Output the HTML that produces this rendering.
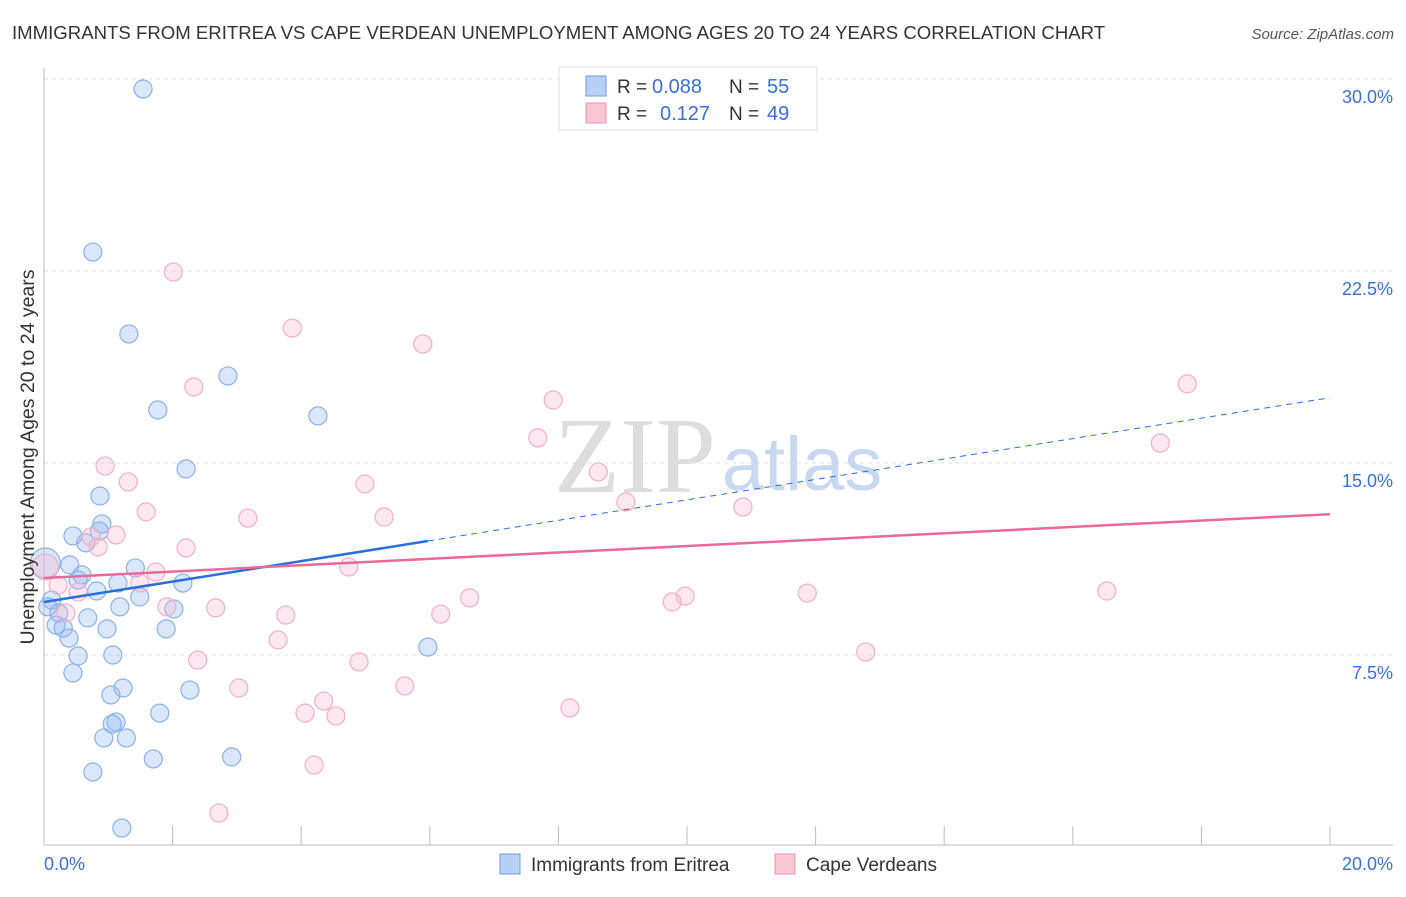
<!DOCTYPE html>
<html><head><meta charset="utf-8"><style>
body{margin:0;background:#fff;font-family:"Liberation Sans",sans-serif}
</style></head><body>
<svg width="1406" height="892" xmlns="http://www.w3.org/2000/svg">
<text x="12" y="39" font-size="18.6" fill="#333">IMMIGRANTS FROM ERITREA VS CAPE VERDEAN UNEMPLOYMENT AMONG AGES 20 TO 24 YEARS CORRELATION CHART</text>
<text x="1394" y="39" font-size="15" fill="#555" font-style="italic" text-anchor="end">Source: ZipAtlas.com</text>
<g id="grid"></g>
<text x="635" y="492" font-size="108" fill="#ddd" font-family="Liberation Serif" text-anchor="middle">ZIP</text>
<text x="802" y="490" font-size="76" fill="#c8d8f0" text-anchor="middle">atlas</text>
<line x1="44" y1="68" x2="44" y2="845" stroke="#bbb"/>
<line x1="44" y1="845" x2="1393" y2="845" stroke="#bbb"/>
<g id="ticks"></g>
<g id="pts"></g>
<g id="lines"></g>
<text transform="translate(34,457) rotate(-90)" font-size="19.5" fill="#333" text-anchor="middle">Unemployment Among Ages 20 to 24 years</text>
<text x="44" y="870" font-size="18" fill="#3b6fd4">0.0%</text>
<text x="1393" y="870" font-size="18" fill="#3b6fd4" text-anchor="end">20.0%</text>
<g>
<rect x="559" y="67" width="258" height="63" fill="#fff" stroke="#ddd"/>
<rect x="586" y="76" width="20" height="20" fill="#b8d0f5" stroke="#6e9be0"/>
<rect x="586" y="103" width="20" height="20" fill="#f9c6d6" stroke="#e890ad"/>
<text x="617" y="93" font-size="19" fill="#333">R =</text>
<text x="652" y="93" font-size="20" fill="#3b6fd4">0.088</text>
<text x="729" y="93" font-size="19" fill="#333">N =</text>
<text x="767" y="93" font-size="20" fill="#3b6fd4">55</text>
<text x="617" y="120" font-size="19" fill="#333">R =</text>
<text x="660" y="120" font-size="20" fill="#3b6fd4">0.127</text>
<text x="729" y="120" font-size="19" fill="#333">N =</text>
<text x="767" y="120" font-size="20" fill="#3b6fd4">49</text>
</g>
<g>
<rect x="500" y="854" width="20" height="20" fill="#b8d0f5" stroke="#6e9be0"/>
<text x="531" y="871" font-size="19" fill="#333">Immigrants from Eritrea</text>
<rect x="775" y="854" width="20" height="20" fill="#f9c6d6" stroke="#e890ad"/>
<text x="806" y="871" font-size="19" fill="#333">Cape Verdeans</text>
</g>
</svg>
<script>
const yTicks=[7.5,15,22.5,30];
const yTickLabels=["7.5%","15.0%","22.5%","30.0%"];
const xTicks=[0,2,4,6,8,10,12,14,16,18,20];
const blueX=[1.54,0.76,1.32,2.86,1.77,4.26,2.21,0.87,0.90,0.45,0.86,0.65,0.02,0.40,0.59,0.53,1.42,1.15,2.16,0.82,1.49,0.12,0.06,0.23,1.18,2.02,0.68,0.19,0.30,0.98,1.90,0.39,0.53,1.07,0.45,5.97,1.23,1.04,2.27,1.80,1.12,1.06,0.93,1.28,2.92,1.70,0.76,1.21];
const blueY=[29.61,23.24,20.04,18.40,17.07,16.84,14.77,13.71,12.62,12.15,12.34,11.88,11.09,11.02,10.63,10.43,10.90,10.31,10.31,10.00,9.77,9.65,9.38,9.14,9.38,9.30,8.95,8.67,8.55,8.52,8.52,8.16,7.46,7.50,6.80,7.81,6.21,5.94,6.13,5.23,4.88,4.80,4.26,4.26,3.52,3.44,2.93,0.74];
const pinkX=[2.01,3.86,5.89,2.33,7.92,17.78,7.68,17.36,0.95,8.62,1.31,4.99,9.05,10.87,1.59,3.17,5.29,1.12,0.73,0.84,2.21,0.02,4.74,1.74,0.22,1.49,0.53,6.62,9.97,9.77,11.87,16.53,1.91,2.67,3.76,6.17,0.34,3.64,12.78,2.39,4.90,3.03,5.61,4.35,4.06,4.54,8.18,4.20,2.72];
const pinkY=[22.46,20.27,19.65,17.97,17.46,18.09,15.98,15.78,14.88,14.65,14.26,14.18,13.48,13.28,13.09,12.85,12.89,12.19,12.11,11.72,11.68,10.94,10.94,10.74,10.23,10.31,9.96,9.73,9.80,9.57,9.92,10.00,9.38,9.34,9.06,9.10,9.14,8.09,7.62,7.30,7.23,6.21,6.29,5.70,5.23,5.12,5.43,3.20,1.33];
const blueTrend=[9.57,17.55];
const pinkTrend=[10.51,13.0];
const NS="http://www.w3.org/2000/svg";
const sx=v=>44+v/20*1286;
const sy=v=>847-v/7.5*192;
function mk(t,a,p){const e=document.createElementNS(NS,t);for(const k in a)e.setAttribute(k,a[k]);p.appendChild(e);return e;}
const grid=document.getElementById('grid'),ticks=document.getElementById('ticks'),pts=document.getElementById('pts'),lines=document.getElementById('lines');
yTicks.forEach((v,i)=>{
 const l=mk('line',{x1:44,x2:1393,y1:sy(v),y2:sy(v),stroke:'#e2e2e2','stroke-dasharray':'4,4'},grid);
 
 
 const t=mk('text',{x:1393,y:sy(v)+24,'font-size':18,fill:'#3b6fd4','text-anchor':'end'},grid);
 t.textContent=yTickLabels[i];
 
 
});
xTicks.forEach(v=>{
 const l=mk('line',{x1:sx(v),x2:sx(v),y1:826,y2:845,stroke:'#bbb'},ticks);
 
 
});
blueX.forEach((x,i)=>{
 const c=mk('circle',{cx:sx(x),cy:sy(blueY[i]),r:(i===12?15:9),fill:'rgba(150,185,240,0.35)',stroke:'#8ab0ea','stroke-width':1.2},pts);
 
 
});
pinkX.forEach((x,i)=>{
 const c=mk('circle',{cx:sx(x),cy:sy(pinkY[i]),r:(i===21?13:9),fill:'rgba(248,180,205,0.3)',stroke:'#f0afc5','stroke-width':1.2},pts);
 
 
});
const bxEnd=5.97, by=x=>blueTrend[0]+(blueTrend[1]-blueTrend[0])*x/20;
let l1=mk('line',{x1:sx(0),y1:sy(by(0)),x2:sx(bxEnd),y2:sy(by(bxEnd)),stroke:'#2a6fd6','stroke-width':2.5},lines);


let l2=mk('line',{x1:sx(bxEnd),y1:sy(by(bxEnd)),x2:sx(20),y2:sy(by(20)),stroke:'#2a6fd6','stroke-width':1,'stroke-dasharray':'6,5'},lines);


let l3=mk('line',{x1:sx(0),y1:sy(pinkTrend[0]),x2:sx(20),y2:sy(pinkTrend[1]),stroke:'#e8699a','stroke-width':2.5},lines);


</script>
</body></html>
